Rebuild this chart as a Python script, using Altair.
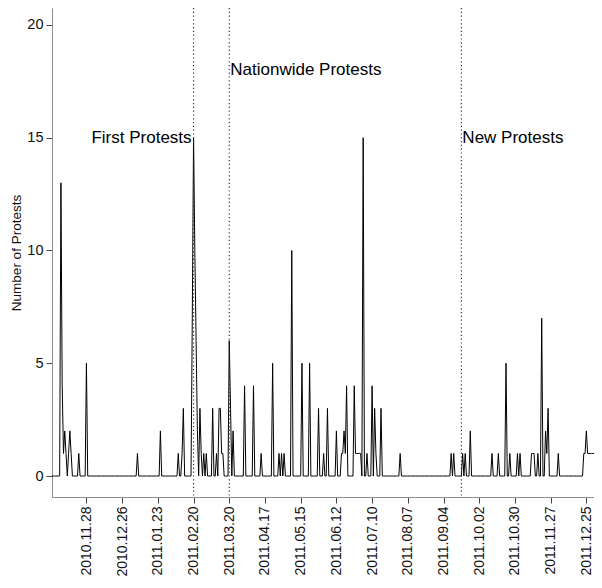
import altair as alt
import pandas as pd

# ---- data (daily protest counts; days not listed are 0) ----
protest_dates = [
    "2010-11-08", "2010-11-09", "2010-11-10", "2010-11-11", "2010-11-12",
    "2010-11-14", "2010-11-15", "2010-11-16", "2010-11-22", "2010-11-28",
    "2011-01-07", "2011-01-25", "2011-02-08", "2011-02-11", "2011-02-12",
    "2011-02-19", "2011-02-20", "2011-02-21", "2011-02-22", "2011-02-23",
    "2011-02-25", "2011-02-26", "2011-02-28", "2011-03-02", "2011-03-07",
    "2011-03-10", "2011-03-12", "2011-03-13", "2011-03-14", "2011-03-15",
    "2011-03-20", "2011-03-21", "2011-03-23", "2011-04-01", "2011-04-08",
    "2011-04-14", "2011-04-23", "2011-04-28", "2011-04-30", "2011-05-02",
    "2011-05-08", "2011-05-16", "2011-05-22", "2011-05-29", "2011-06-02",
    "2011-06-05", "2011-06-12", "2011-06-16", "2011-06-17", "2011-06-18",
    "2011-06-19", "2011-06-20", "2011-06-26", "2011-06-27", "2011-06-28",
    "2011-06-29", "2011-06-30", "2011-07-01", "2011-07-03", "2011-07-06",
    "2011-07-10", "2011-07-12", "2011-07-13", "2011-07-17", "2011-08-01",
    "2011-09-10", "2011-09-12", "2011-09-19", "2011-09-21", "2011-09-25",
    "2011-10-12", "2011-10-17", "2011-10-23", "2011-10-26", "2011-11-01",
    "2011-11-03", "2011-11-12", "2011-11-13", "2011-11-14", "2011-11-17",
    "2011-11-20", "2011-11-23", "2011-11-24", "2011-11-25", "2011-12-03",
    "2011-12-23", "2011-12-24", "2011-12-25", "2011-12-26", "2011-12-27",
    "2011-12-28", "2011-12-29", "2011-12-30", "2011-12-31",
]
protest_counts = [
    13, 4, 1, 2, 1,
    1, 2, 1, 1, 5,
    1, 2, 1, 1, 3,
    7, 15, 10, 6, 2,
    3, 1, 1, 1, 3,
    1, 3, 3, 1, 1,
    6, 3, 2, 4, 4,
    1, 5, 1, 1, 1,
    10, 5, 5, 3, 1,
    3, 2, 1, 1, 2,
    1, 4, 4, 1, 1,
    1, 1, 1, 15, 1,
    4, 3, 1, 3, 1,
    1, 1, 1, 1, 2,
    1, 1, 5, 1, 1,
    1, 1, 1, 1, 1,
    7, 2, 1, 3, 1,
    1, 1, 2, 1, 1,
    1, 1, 1, 1,
]
series_start = "2010-11-01"
series_end = "2011-12-31"

event_dates = ["2011-02-20", "2011-03-20", "2011-09-18"]
event_labels = ["First Protests", "Nationwide Protests", "New Protests"]
event_label_y = [15, 18, 15]

tick_dates = [
    (2010, 11, 28), (2010, 12, 26), (2011, 1, 23), (2011, 2, 20), (2011, 3, 20),
    (2011, 4, 17), (2011, 5, 15), (2011, 6, 12), (2011, 7, 10), (2011, 8, 7),
    (2011, 9, 4), (2011, 10, 2), (2011, 10, 30), (2011, 11, 27), (2011, 12, 25),
]
y_ticks = [0, 5, 10, 15, 20]

# ---- build tables ----
days = pd.date_range(series_start, series_end, freq="D")
counts = pd.Series(0, index=days.strftime("%Y-%m-%d"))
for d, c in zip(protest_dates, protest_counts):
    counts[d] = c
df = pd.DataFrame({"date": counts.index, "count": counts.values})

ev = pd.DataFrame({"date": event_dates, "label": event_labels, "y": event_label_y})

FONT = "Liberation Sans"


def dt(s):
    y, m, d = (int(v) for v in s.split("-"))
    return alt.DateTime(year=y, month=m, date=d, utc=True)


x_scale = alt.Scale(type="utc", domain=[dt(series_start), dt(series_end)], nice=False)
y_scale = alt.Scale(domain=[-0.93, 20.75], nice=False, zero=False)

x_axis = alt.Axis(
    values=[alt.DateTime(year=a, month=b, date=c, utc=True) for a, b, c in tick_dates],
    labelExpr="utcFormat(datum.value, '%Y.%m.%d')",
    labelAngle=270, labelOverlap=False, labelFlush=False, title=None,
    grid=False, tickSize=6, labelPadding=3, labelFontSize=14,
)
y_axis = alt.Axis(
    values=y_ticks, title="Number of Protests", grid=False, tickSize=6,
    labelPadding=3, labelFontSize=14.5, titleFontSize=13.5, titleFontWeight="normal",
    titlePadding=3,
)


def X(field):
    return alt.X(field, type="temporal", scale=x_scale, axis=x_axis)


def Y(field):
    return alt.Y(field, type="quantitative", scale=y_scale, axis=y_axis)


line = alt.Chart(df).mark_line(color="black", strokeWidth=1, clip=True).encode(
    x=X("date"), y=Y("count"),
)

rules = alt.Chart(ev).mark_rule(color="#333333", strokeWidth=1.2, strokeDash=[1.2, 2.6]).encode(
    x=X("date"),
)

text_right = alt.Chart(ev[ev["label"] == "First Protests"]).mark_text(
    align="right", baseline="middle", dx=-2, fontSize=17, font=FONT, color="black",
).encode(x=X("date"), y=Y("y"), text="label:N")

text_left = alt.Chart(ev[ev["label"] != "First Protests"]).mark_text(
    align="left", baseline="middle", dx=1, fontSize=17, font=FONT, color="black",
).encode(x=X("date"), y=Y("y"), text="label:N")

chart = (
    alt.layer(line, rules, text_right, text_left)
    .properties(
        width=542, height=489,
        autosize=alt.AutoSizeParams(type="none"),
        padding={"left": 44, "top": 0, "right": 0, "bottom": 81},
    )
    .configure_view(stroke=None)
    .configure_axis(
        domainColor="#8c8c8c", tickColor="#444444", labelColor="#111111",
        labelFont=FONT, titleFont=FONT, titleColor="#111111",
    )
)

chart.save("out.html", embed_options={"renderer": "svg", "actions": False})
